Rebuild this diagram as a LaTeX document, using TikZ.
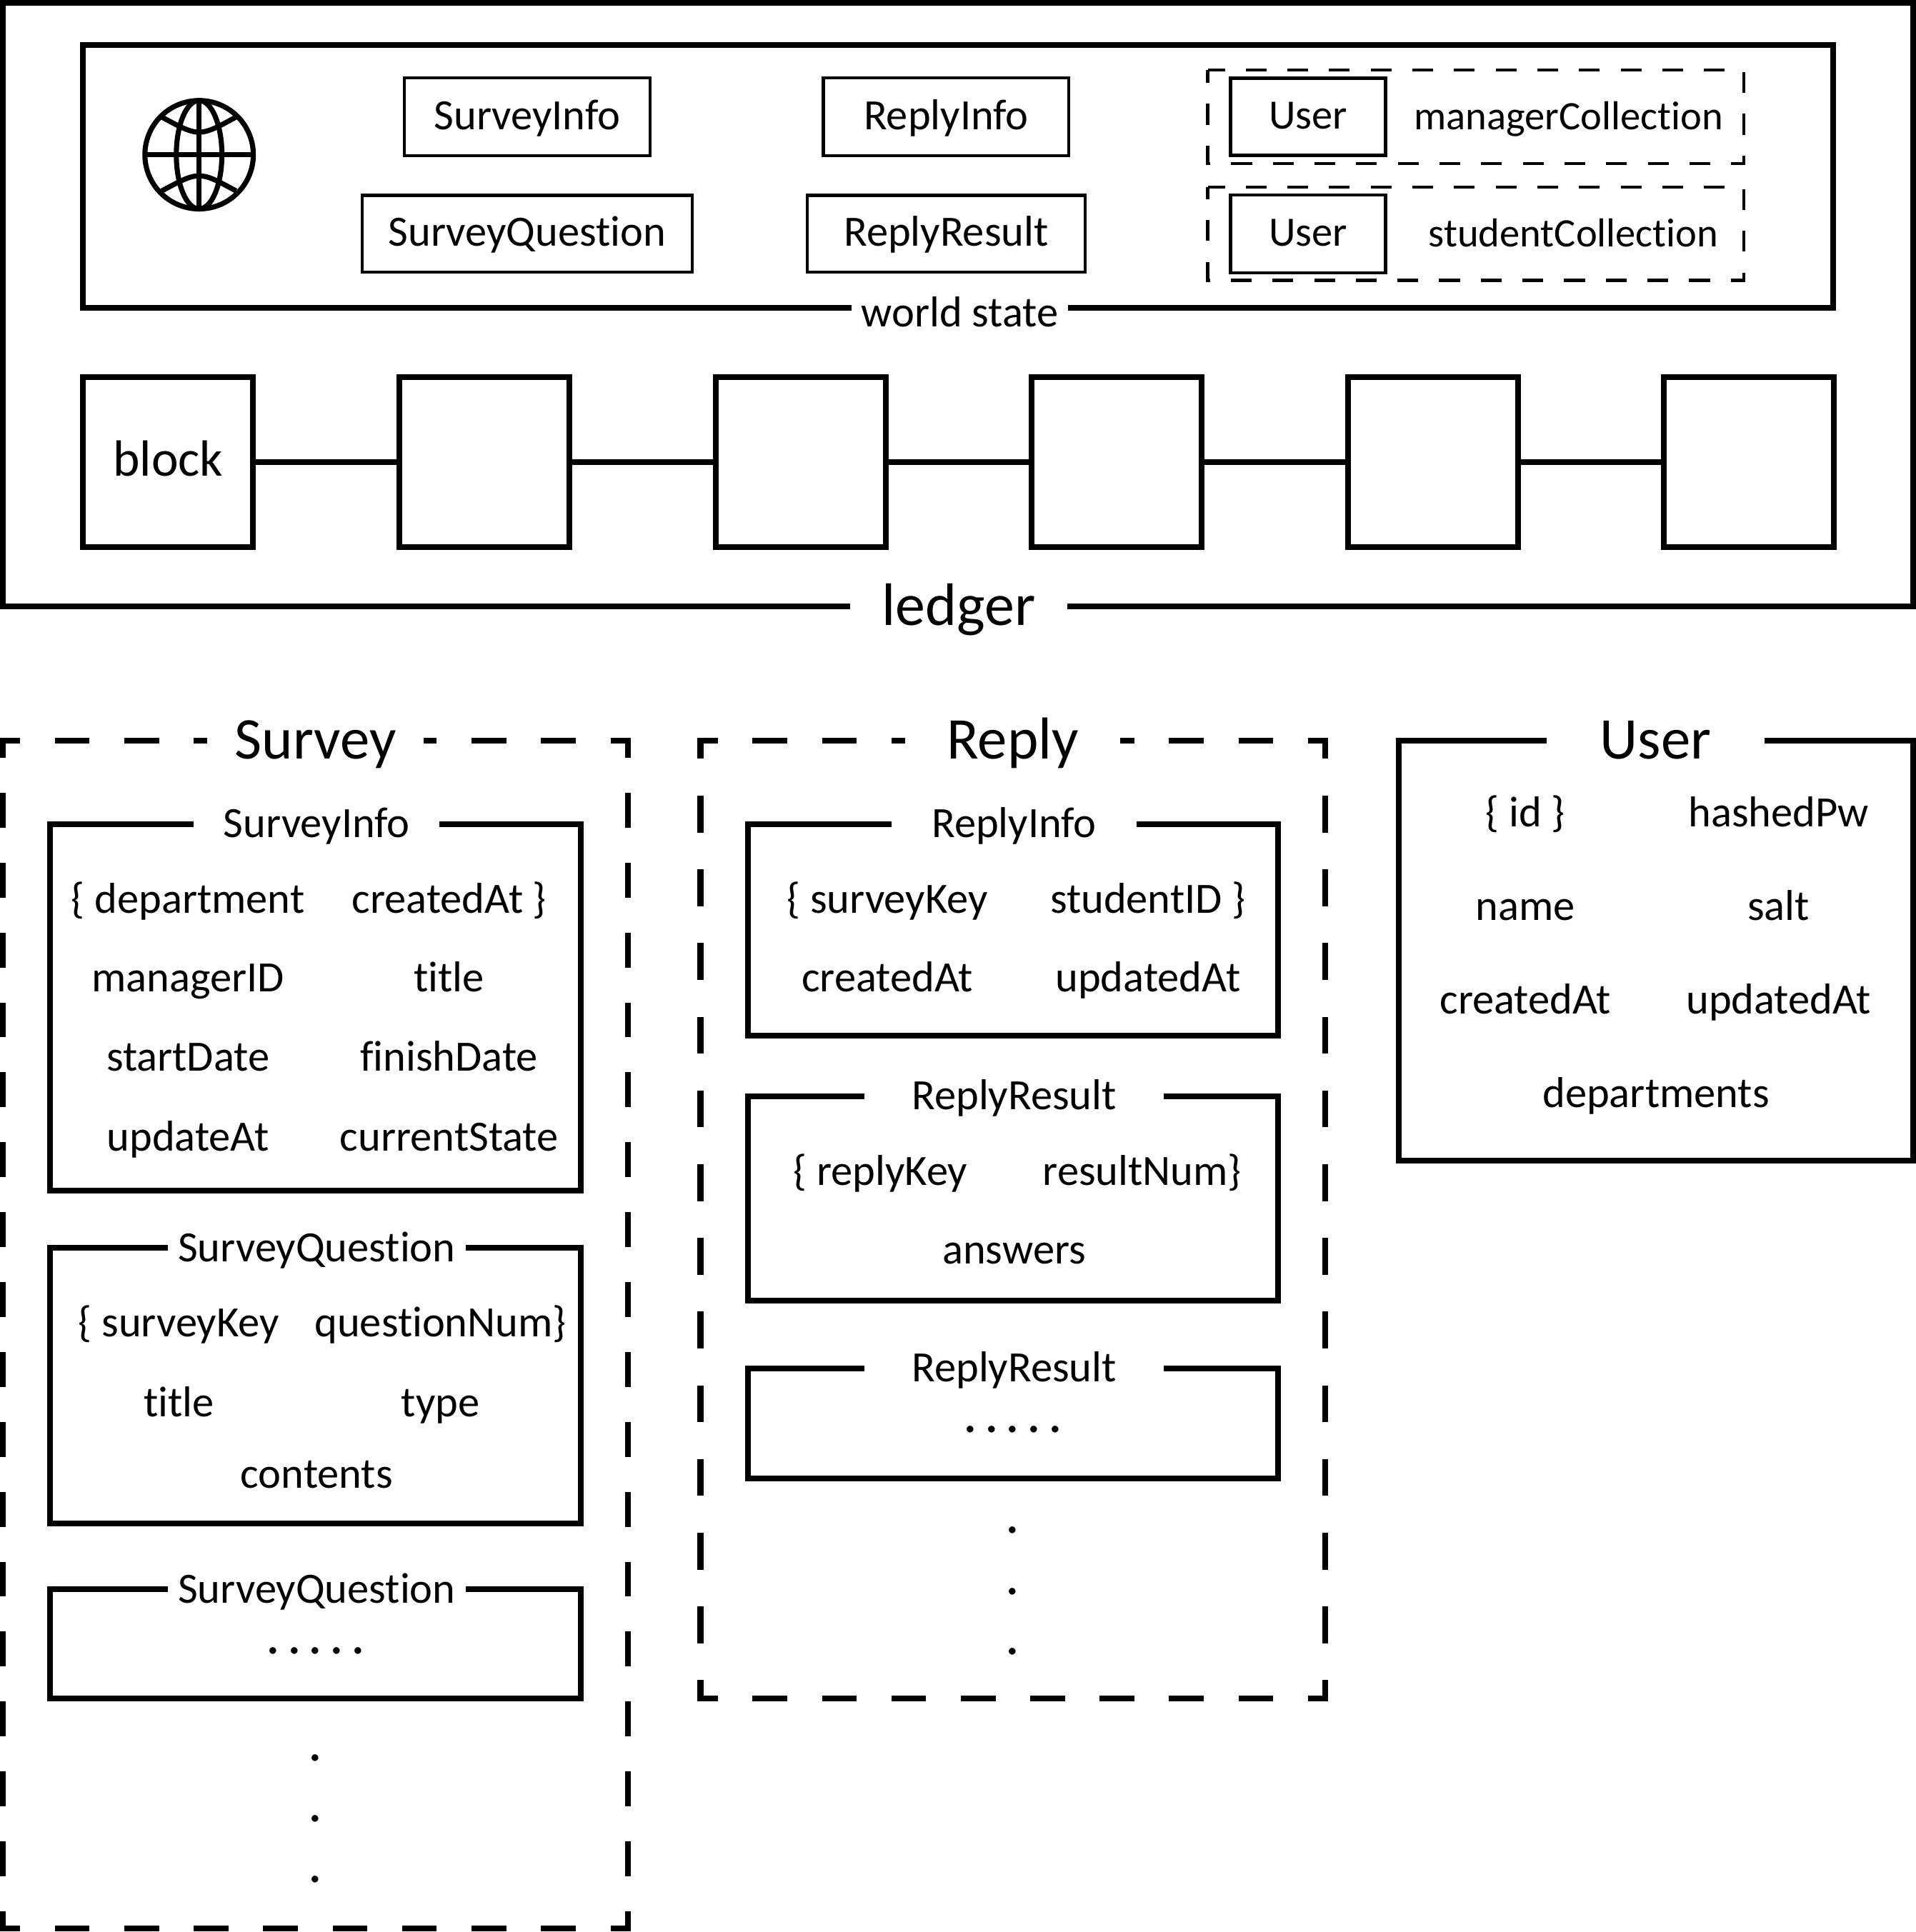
\documentclass[tikz,border=0pt]{standalone}
\usepackage{fontspec}
\setmainfont[Ligatures={NoCommon}]{Carlito}
\tikzset{every picture/.style={line width=3.5pt},
  fieldtext/.style={anchor=base,inner sep=0pt,xshift=0.8pt,yshift=-0.9pt,font=\fontsize{26.3}{30}\selectfont},
  headtext/.style={anchor=base,inner sep=0pt,font=\fontsize{36}{40}\selectfont},
  gapfield/.style={fieldtext,anchor=center,fill=white,yshift=0.9pt,text height=21.5pt,text depth=5pt,minimum height=30pt,minimum width=#1},
  gaphead/.style={headtext,anchor=center,fill=white,text height=29pt,text depth=6.8pt,minimum width=#1},
  dotmark/.style={inner sep=0pt,font=\fontsize{34}{40}\selectfont},
  thinbox/.style={draw,line width=1.95pt,inner sep=0pt,text height=20pt,text depth=4.7pt,font=\fontsize{26.3}{30}\selectfont},
  blockbox/.style={draw,line width=3.5pt,minimum width=103.5pt,minimum height=103.5pt,inner sep=0pt,text height=24.5pt,text depth=7pt,font=\fontsize{31}{36}\selectfont},
  sidedash/.style 2 args={dash pattern=on #1 off #1,dash phase=#2},
  smalldash/.style={line width=1.8pt,dash pattern=on 12.68pt off 12.68pt,dash phase=2.25pt},
  globeline/.style={line width=3.1pt}}
\begin{document}
\begin{tikzpicture}[x=0.75pt,y=0.75pt,yscale=-1,xscale=1]
\useasboundingbox (0,0) rectangle (1555,1568.4);

%Ledger frame
\draw    (2.5,2.5) -- (1552.8,2.5) -- (1552.8,492) -- (2.5,492) -- cycle ;
%World state frame
\draw    (67.3,36.5) -- (1488,36.5) -- (1488,250) -- (67.3,250) -- cycle ;

%Globe
\draw  [globeline] (161.6,125.6) circle [radius=44] ;
\draw  [globeline] (161.6,125.6) ellipse [x radius=18.5,y radius=44] ;
\draw  [globeline] (161.6,81.6) -- (161.6,169.6) ;
\draw  [globeline] (117.6,125.6) -- (205.6,125.6) ;
\draw  [globeline] (131.3,95) .. controls (161.6,111.4) .. (191.6,95) ;
\draw  [globeline] (131.3,155) .. controls (161.6,138.6) .. (191.6,155) ;

%Collection boxes
\draw  [smalldash] (980.2,57) -- (1415.2,57) -- (1415.2,132.9) -- (980.2,132.9) -- cycle ;
\draw  [smalldash] (980.2,152) -- (1415.2,152) -- (1415.2,227.6) -- (980.2,227.6) -- cycle ;

% Text Node
\draw (427.9,94.8) node (infoTop) [thinbox,minimum width=149.8pt,minimum height=47.6pt] {SurveyInfo};
\draw (427.9,189.8) node (questionTop) [thinbox,minimum width=200.9pt,minimum height=46.7pt] {SurveyQuestion};
\draw (767.9,94.8) node (replyTop) [thinbox,minimum width=149.3pt,minimum height=47.6pt] {ReplyInfo};
\draw (767.9,189.8) node (resultTop) [thinbox,minimum width=169.1pt,minimum height=46.7pt] {ReplyResult};
\draw (1061.6,94.7) node (managerUser) [thinbox,minimum width=94.5pt,minimum height=47pt,font=\fontsize{25.4}{30}\selectfont] {User};
\draw (1061.6,189.8) node (studentUser) [thinbox,minimum width=94.5pt,minimum height=47.5pt,font=\fontsize{25.4}{30}\selectfont] {User};
\draw (1272,104) node (managerText) [fieldtext,font=\fontsize{24.6}{30}\selectfont] {managerCollection};
\draw (1276,199) node (studentText) [fieldtext,font=\fontsize{24.6}{30}\selectfont] {studentCollection};
\draw (778,254) node (worldTitle) [gapfield=132pt] {world state};

%Blocks
\draw (136.4,375) node (blockA) [blockbox] {block};
\draw (393.2,375) node (blockB) [blockbox] {};
\draw (649.8,375) node (blockC) [blockbox] {};
\draw (906.3,375) node (blockD) [blockbox] {};
\draw (1163,375) node (blockE) [blockbox] {};
\draw (1419.4,375) node (blockF) [blockbox] {};
\draw (blockA) -- (blockB) ;
\draw (blockB) -- (blockC) ;
\draw (blockC) -- (blockD) ;
\draw (blockD) -- (blockE) ;
\draw (blockE) -- (blockF) ;
\draw (778,493) node (ledgerTitle) [gaphead=132pt,font=\fontsize{36.5}{40}\selectfont] {ledger};

%Survey frame
\draw  [sidedash={21.14pt}{8.84pt}] (-0.1,601) -- (511.9,601) ;
\draw  [sidedash={21.14pt}{8.84pt}] (-0.1,1565.6) -- (511.9,1565.6) ;
\draw  [sidedash={21.28pt}{8.92pt}] (2.2,598.7) -- (2.2,1567.9) ;
\draw  [sidedash={21.28pt}{8.92pt}] (509.6,598.7) -- (509.6,1567.9) ;
\draw (256,601) node (surveyTitle) [gaphead=132pt] {Survey};

\draw    (40.7,669) -- (471.5,669) -- (471.5,966.8) -- (40.7,966.8) -- cycle ;
\draw (256,669) node (surveyInfoTitle) [gapfield=149.5pt] {SurveyInfo};
\draw (151.5,739.8) node (department) [fieldtext] {\{ department};
\draw (363.5,739.8) node (createdS) [fieldtext] {createdAt \}};
\draw (151.5,804) node (managerID) [fieldtext] {managerID};
\draw (363.5,804) node (titleS) [fieldtext] {title};
\draw (151.5,868.5) node (startDate) [fieldtext] {startDate};
\draw (363.5,868.5) node (finishDate) [fieldtext] {finishDate};
\draw (151.5,933) node (updateAt) [fieldtext] {updateAt};
\draw (363.5,933) node (currentState) [fieldtext] {currentState};

\draw    (40.7,1013) -- (471.5,1013) -- (471.5,1237) -- (40.7,1237) -- cycle ;
\draw (256,1013) node (questionTitle) [gapfield=181.5pt] {SurveyQuestion};
\draw (144,1084) node (surveyKeyQ) [fieldtext] {\{ surveyKey};
\draw (356.5,1084) node (questionNum) [fieldtext] {questionNum\}};
\draw (144,1149) node (titleQ) [fieldtext] {title};
\draw (356.5,1149) node (typeQ) [fieldtext] {type};
\draw (256,1207) node (contentsQ) [fieldtext] {contents};

\draw    (40.7,1290.2) -- (471.5,1290.2) -- (471.5,1378.9) -- (40.7,1378.9) -- cycle ;
\draw (256,1290.2) node (questionMore) [gapfield=181.5pt] {SurveyQuestion};
\draw (221.9,1340) node (dotSa) [dotmark] {.};
\draw (239,1340) node (dotSb) [dotmark] {.};
\draw (256,1340) node (dotSc) [dotmark] {.};
\draw (273.4,1340) node (dotSd) [dotmark] {.};
\draw (290.7,1340) node (dotSe) [dotmark] {.};
\draw (256,1427) node (dotVa) [dotmark] {.};
\draw (256,1476.3) node (dotVb) [dotmark] {.};
\draw (256,1525.6) node (dotVc) [dotmark] {.};

%Reply frame
\draw  [sidedash={21.13pt}{8.84pt}] (566.2,601) -- (1077.9,601) ;
\draw  [sidedash={21.13pt}{8.84pt}] (566.2,1379) -- (1077.9,1379) ;
\draw  [sidedash={22.44pt}{9.49pt}] (568.5,598.7) -- (568.5,1381.3) ;
\draw  [sidedash={22.44pt}{9.49pt}] (1075.6,598.7) -- (1075.6,1381.3) ;
\draw (822,601) node (replyTitle) [gaphead=131pt] {Reply};

\draw    (606.8,669) -- (1037.4,669) -- (1037.4,840.7) -- (606.8,840.7) -- cycle ;
\draw (822,669) node (replyInfoTitle) [gapfield=149.5pt] {ReplyInfo};
\draw (719,739.8) node (surveyKeyR) [fieldtext] {\{ surveyKey};
\draw (930.6,739.8) node (studentID) [fieldtext] {studentID \}};
\draw (719,804) node (createdR) [fieldtext] {createdAt};
\draw (930.6,804) node (updatedR) [fieldtext] {updatedAt};

\draw    (606.8,890) -- (1037.4,890) -- (1037.4,1055.8) -- (606.8,1055.8) -- cycle ;
\draw (822,890) node (resultTitle) [gapfield=182pt] {ReplyResult};
\draw (713.5,961.2) node (replyKey) [fieldtext] {\{ replyKey};
\draw (926,961.2) node (resultNum) [fieldtext] {resultNum\}};
\draw (822,1025) node (answers) [fieldtext] {answers};

\draw    (606.8,1110.9) -- (1037.4,1110.9) -- (1037.4,1200.3) -- (606.8,1200.3) -- cycle ;
\draw (822,1110.9) node (resultMore) [gapfield=182pt] {ReplyResult};
\draw (787.6,1160.6) node (dotRa) [dotmark] {.};
\draw (805,1160.6) node (dotRb) [dotmark] {.};
\draw (822,1160.6) node (dotRc) [dotmark] {.};
\draw (839.4,1160.6) node (dotRd) [dotmark] {.};
\draw (856.8,1160.6) node (dotRe) [dotmark] {.};
\draw (822,1242.4) node (dotWa) [dotmark] {.};
\draw (822,1291.9) node (dotWb) [dotmark] {.};
\draw (822,1341) node (dotWc) [dotmark] {.};

%User frame
\draw    (1135,601) -- (1552.8,601) -- (1552.8,942) -- (1135,942) -- cycle ;
\draw (1343.7,601) node (userTitle) [gaphead=132.4pt] {User};
\draw (1237,669.8) node (idU) [fieldtext] {\{ id \}};
\draw (1442.5,669.8) node (hashedPw) [fieldtext] {hashedPw};
\draw (1237,745.7) node (nameU) [fieldtext] {name};
\draw (1442.5,745.7) node (salt) [fieldtext] {salt};
\draw (1237,822) node (createdU) [fieldtext] {createdAt};
\draw (1442.5,822) node (updatedU) [fieldtext] {updatedAt};
\draw (1343,898) node (departments) [fieldtext] {departments};

\end{tikzpicture}
\end{document}
